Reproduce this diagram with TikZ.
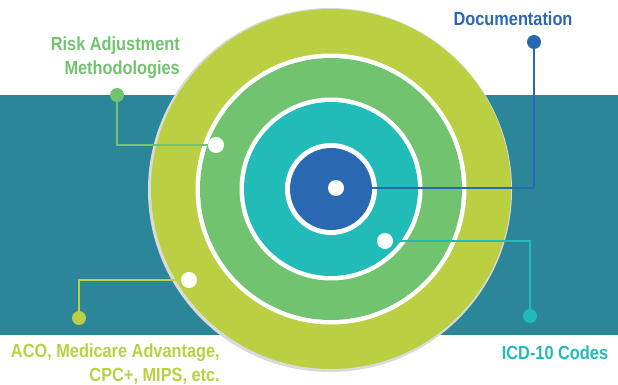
\documentclass[tikz,border=0pt]{standalone}
\usepackage{fontspec}
\newfontfamily\tagfont[FakeStretch=0.86]{Liberation Sans}
\usetikzlibrary{positioning}
\definecolor{rgband}{HTML}{2C869A}
\definecolor{rglime}{HTML}{BACF42}
\definecolor{rggreen}{HTML}{72C370}
\definecolor{rgteal}{HTML}{21BBB8}
\definecolor{rgblue}{HTML}{2A68B1}
\definecolor{rgshade}{HTML}{DADADA}

\begin{document}
\begin{tikzpicture}[
  x=1pt, y=-1pt,
  pin/.style={circle, fill=white, inner sep=0pt, minimum size=16pt},
  knob/.style={circle, inner sep=0pt, minimum size=14pt},
  lead/.style={line width=2pt},
  tag/.style={font=\tagfont\bfseries\fontsize{19}{24}\selectfont, inner sep=0pt},
]
\useasboundingbox (0,0) rectangle (618,385);

% ---------------- band and target ------------------------------------
\fill[rgband] (0,95) rectangle (618,335);

\fill[rgshade] (330,190) circle (182);
\fill[rglime]  (331,189) circle (180);
\fill[white]   (331,189) circle (135.5);
\fill[rggreen] (331,189) circle (131);
\fill[white]   (331,189) circle (91.5);
\fill[rgteal]  (331,189) circle (87);
\fill[white]   (331,189) circle (46);
\fill[rgblue]  (331,189) circle (41);

% ---------------- pins on the rings ----------------------------------
\node[pin] (hub)  at (336,188) {};
\node[pin] (gpin) at (216,145) {};
\node[pin] (tpin) at (385,241) {};
\node[pin] (lpin) at (189,280) {};

% ---------------- leader ends ----------------------------------------
\node[knob, fill=rggreen] (gknob) at (117,95)  {};
\node[knob, fill=rgblue]  (bknob) at (534,42)  {};
\node[knob, fill=rgteal]  (tknob) at (530,316) {};
\node[knob, fill=rglime]  (lknob) at (79,318)  {};

\draw[lead, rggreen] (gknob) |- (gpin);
\draw[lead, rgblue]  (bknob) |- (hub);
\draw[lead, rgteal]  (tknob) |- (tpin);
\draw[lead, rglime]  (lknob) |- (lpin);

% ---------------- labels ---------------------------------------------
\node[tag, text=rggreen, align=right, anchor=east] (gtag) at (180,58)
  {Risk Adjustment\\Methodologies};
\node[tag, text=rgblue] (btag) at (513,19) {Documentation};
\node[tag, text=rgteal] (ttag) at (555,353) {ICD-10 Codes};
\node[tag, text=rglime, align=right, anchor=east] (ltag) at (220,364)
  {ACO, Medicare Advantage,\\CPC+, MIPS, etc.};

\end{tikzpicture}
\end{document}
